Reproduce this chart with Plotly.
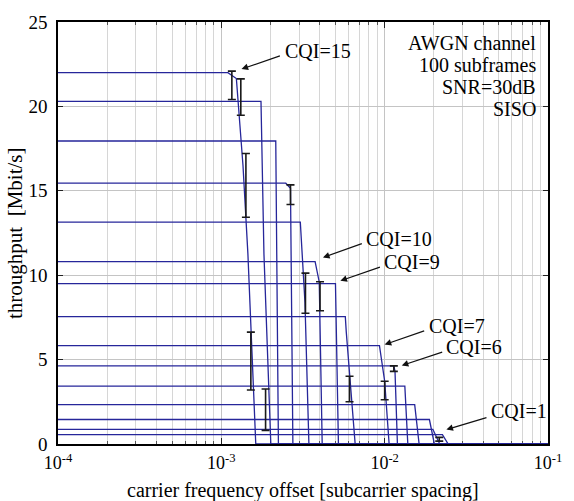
import math
import plotly.graph_objects as go

# ---------------- data ----------------
cqi = list(range(1, 16))
# flat throughput level of each CQI curve [Mbit/s]
level = [0.55, 0.87, 1.45, 2.33, 3.43, 4.63, 5.83, 7.55, 9.5, 10.8, 13.15, 15.45, 17.95, 20.3, 22.0]

# break points of each curve after the flat part (carrier frequency offset, throughput)
drop_x = {
    1: [2.258e-2, 2.447e-2],
    2: [1.973e-2, 2.174e-2],
    3: [1.879e-2, 2.015e-2],
    4: [1.527e-2, 1.625e-2],
    5: [1.329e-2, 1.386e-2],
    6: [1.138e-2, 1.157e-2, 1.197e-2],
    7: [9.292e-3, 1.0e-2, 1.065e-2],
    8: [5.741e-3, 5.821e-3, 6.597e-3],
    9: [4.998e-3, 5.211e-3],
    10: [3.751e-3, 3.976e-3, 4.145e-3],
    11: [3.045e-3, 3.251e-3, 3.437e-3],
    12: [2.481e-3, 2.651e-3, 2.742e-3],
    13: [2.154e-3, 2.236e-3],
    14: [1.749e-3, 1.823e-3, 2.009e-3],
    15: [1.097e-3, 1.236e-3, 1.357e-3, 1.454e-3, 1.625e-3],
}
drop_y = {
    1: [0.55, 0],
    2: [0.87, 0],
    3: [1.45, 0],
    4: [2.33, 0],
    5: [3.43, 0],
    6: [4.63, 4.3, 0],
    7: [5.83, 3.72, 0],
    8: [7.55, 6.63, 0],
    9: [9.5, 0],
    10: [10.8, 9.6, 0],
    11: [13.15, 8.4, 0],
    12: [15.45, 15.15, 0],
    13: [17.95, 0],
    14: [20.3, 11.28, 0],
    15: [22.0, 21.65, 16.5, 11.28, 0],
}
x_min, x_max = 1e-4, 1e-1

# error bars: position, upper end, lower end
eb_x = [1.160e-3, 1.316e-3, 1.414e-3, 1.516e-3, 1.866e-3, 2.651e-3,
        3.274e-3, 4.020e-3, 6.094e-3, 1.0e-2, 1.138e-2, 2.159e-2]
eb_hi = [22.09, 21.63, 17.21, 6.63, 3.26, 15.35, 10.12, 9.61, 4.01, 3.72, 4.63, 0.39]
eb_lo = [20.41, 19.48, 13.43, 3.20, 0.81, 14.19, 7.75, 7.89, 2.50, 2.62, 4.30, 0.17]

x_tickvals = [1e-4, 1e-3, 1e-2, 1e-1]
x_ticktext = ["10<sup>-4</sup>", "10<sup>-3</sup>", "10<sup>-2</sup>", "10<sup>-1</sup>"]
y_tickvals = [0, 5, 10, 15, 20, 25]

info_lines = ["AWGN channel", "100 subframes", "SNR=30dB", "SISO"]

# labels: text, text pos (x, y), arrow head (x, y), arrow tail (x, y)
labels = [
    ("CQI=15", (2.396e-3, 23.31), (1.329e-3, 22.21), (2.332e-3, 23.02)),
    ("CQI=10", (7.504e-3, 12.15), (4.190e-3, 11.05), (7.402e-3, 11.90)),
    ("CQI=9", (9.632e-3, 10.80), (5.358e-3, 9.67), (9.552e-3, 10.51)),
    ("CQI=7", (1.808e-2, 7.02), (1.0e-2, 5.89), (1.783e-2, 6.73)),
    ("CQI=6", (2.298e-2, 5.76), (1.272e-2, 4.65), (2.298e-2, 5.47)),
    ("CQI=1", (4.332e-2, 1.94), (2.387e-2, 0.855), (4.291e-2, 1.59)),
]

# ---------------- figure ----------------
FONT = "Liberation Serif"
LINE_COLOR = "#26269a"

fig = go.Figure()

for k, lv in zip(cqi, level):
    xs = [x_min] + drop_x[k] + [x_max]
    ys = [lv] + drop_y[k] + [0]
    fig.add_trace(go.Scatter(x=xs, y=ys, mode="lines",
                             line=dict(color=LINE_COLOR, width=1.3),
                             showlegend=False, hoverinfo="skip"))

eb_mid = [(h + l) / 2 for h, l in zip(eb_hi, eb_lo)]
fig.add_trace(go.Scatter(
    x=eb_x, y=eb_mid, mode="markers",
    marker=dict(size=1, color="rgba(0,0,0,0)"),
    error_y=dict(type="data", symmetric=False,
                 array=[h - m for h, m in zip(eb_hi, eb_mid)],
                 arrayminus=[m - l for m, l in zip(eb_mid, eb_lo)],
                 color="#1a1a1a", thickness=1.6, width=4),
    showlegend=False, hoverinfo="skip"))

annotations = []
for text, (tx, ty), (hx, hy), (sx, sy) in labels:
    annotations.append(dict(
        x=math.log10(hx), y=hy, xref="x", yref="y",
        ax=math.log10(sx), ay=sy, axref="x", ayref="y",
        text="", showarrow=True, arrowhead=2, arrowsize=1.1,
        arrowwidth=1.2, arrowcolor="#111111"))
    annotations.append(dict(
        x=math.log10(tx), y=ty, xref="x", yref="y", text=text,
        showarrow=False, xanchor="left", yanchor="middle",
        font=dict(family=FONT, size=20, color="black")))

for i, line in enumerate(info_lines):
    annotations.append(dict(
        x=1, y=1, xref="paper", yref="paper", xanchor="right", yanchor="middle",
        xshift=-10, yshift=-(21 + 22 * i), showarrow=False, text=line,
        font=dict(family=FONT, size=20, color="black")))

annotations.append(dict(
    x=0.5, y=0, xref="paper", yref="paper", xanchor="center", yanchor="middle",
    yshift=-46, showarrow=False,
    text="carrier frequency offset [subcarrier spacing]",
    font=dict(family=FONT, size=20, color="black")))

annotations.append(dict(
    x=0, y=0.5, xref="paper", yref="paper", xanchor="center", yanchor="middle",
    xshift=-43, showarrow=False, textangle=-90,
    text="throughput  [Mbit/s]",
    font=dict(family=FONT, size=21, color="black")))

minor_vals = [m * d for d in (1e-4, 1e-3, 1e-2) for m in range(2, 10)]

fig.update_layout(
    width=574, height=501,
    margin=dict(l=58, r=18, t=13, b=57),
    paper_bgcolor="white", plot_bgcolor="white",
    font=dict(family=FONT, size=18, color="black"),
    annotations=annotations,
    xaxis=dict(
        type="log", range=[-4, -1],
        tickvals=x_tickvals, ticktext=x_ticktext,
        ticks="inside", ticklen=6, tickcolor="#222",
        showline=True, linecolor="black", linewidth=1.5, mirror="ticks",
        showgrid=True, gridcolor="#c4c4c4", gridwidth=1,
        minor=dict(tickvals=minor_vals, ticks="inside", ticklen=3,
                   tickcolor="#555", showgrid=True, gridcolor="#d6d6d6", gridwidth=1),
        ticklabelstandoff=2, zeroline=False,
        tickfont=dict(family=FONT, size=18),
        layer="below traces",
    ),
    yaxis=dict(
        range=[0, 25], tickvals=y_tickvals,
        ticks="inside", ticklen=5, tickcolor="#222",
        showline=True, linecolor="black", linewidth=1.5, mirror="ticks",
        showgrid=True, gridcolor="#c4c4c4", gridwidth=1,
        zeroline=False, ticklabelstandoff=5,
        tickfont=dict(family=FONT, size=19),
        layer="below traces",
    ),
)

fig.write_html("out.html")
